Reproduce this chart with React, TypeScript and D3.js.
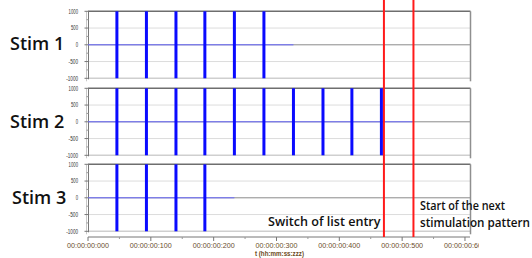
import React from "react";
import * as d3 from "d3";

const stimLabels = ["Stim 1", "Stim 2", "Stim 3"];
const pulseTimes = [46, 93, 140, 186, 233, 280, 327, 374, 420, 467];
const pulseCounts = [6, 10, 4];
const signalEnd = [327, 517, 233];
const markerTimes = [471, 518];
const yTicks = [1000, 500, 0, -500, -1000];
const yMinor = [750, 250, -250, -750];
const xTicks = [0, 100, 200, 300, 400, 500, 600];
const xTickLabels = ["00:00:00:000", "00:00:00:100", "00:00:00:200", "00:00:00:300", "00:00:00:400", "00:00:00:500", "00:00:00:600"];
const xMinor = [50, 150, 250, 350, 450, 550];

const W = 532, H = 258;
const panelTops = [11.3, 88.3, 164.3];
const panelH = 67;

export default function App() {
  const x = d3.scaleLinear().domain([0, 608]).range([88, 470]);
  const axisY = 237;
  const annFont = { fontWeight: 600, fontFamily: "Open Sans, sans-serif", fill: "#111" } as const;
  return (
    <svg width={W} height={H} style={{ position: "absolute", left: 0, top: 0, background: "#fff" }}>
      <defs>
        <clipPath id="xclip"><rect x={0} y={0} width={479} height={H} /></clipPath>
      </defs>
      {stimLabels.map((lab, i) => {
        const top = panelTops[i];
        const y = d3.scaleLinear().domain([-1000, 1000]).range([top + panelH, top]);
        const pulses = pulseTimes.slice(0, pulseCounts[i]);
        return (
          <g key={lab}>
            <line x1={88} x2={470} y1={y(500)} y2={y(500)} stroke="#dcdcdc" />
            <line x1={88} x2={470} y1={y(-500)} y2={y(-500)} stroke="#dcdcdc" />
            <line x1={88} x2={470} y1={y(-1000)} y2={y(-1000)} stroke="#cfcfcf" strokeWidth={1.5} />
            <line x1={88} x2={470} y1={y(0)} y2={y(0)} stroke="#8a8a8a" />
            <line x1={88} x2={470.5} y1={y(1000)} y2={y(1000)} stroke="#6e6e6e" strokeWidth={1.5} />
            <line x1={470.5} x2={470.5} y1={y(1000)} y2={y(-1000) + 3} stroke="#8f8f8f" strokeWidth={1.5} />
            <line x1={86.5} x2={86.5} y1={y(1000)} y2={y(-1000) + 3} stroke="#c8c8c8" />
            <line x1={88.5} x2={88.5} y1={y(1000)} y2={y(-1000) + 1} stroke="#777" />
            {yTicks.map(t => (
              <g key={t}>
                <line x1={84.5} x2={88.5} y1={y(t)} y2={y(t)} stroke="#777" />
                <text x={78} y={y(t) + 2.2} fontSize={6.3} textAnchor="end" fill="#333"
                  fontFamily="Liberation Sans, Arial, sans-serif"
                  textLength={String(t).length * 2.35} lengthAdjust="spacingAndGlyphs">{t}</text>
              </g>
            ))}
            {yMinor.map(t => (
              <line key={t} x1={86.5} x2={88.5} y1={y(t)} y2={y(t)} stroke="#999" />
            ))}
            <line x1={x(0)} x2={x(signalEnd[i])} y1={y(0)} y2={y(0)} stroke="#6a6aff" strokeWidth={1} />
            {pulses.map(p => (
              <line key={p} x1={x(p)} x2={x(p)} y1={y(1000)} y2={y(-1000)} stroke="#0a0aff" strokeWidth={3} />
            ))}
            <text x={i === 2 ? 12 : 10} y={[50, 128, 204][i]} fontSize={18} fontWeight={600}
              fontFamily="Open Sans, sans-serif" fill="#111">{lab}</text>
          </g>
        );
      })}
      <line x1={88} x2={470} y1={axisY} y2={axisY} stroke="#777" />
      {xTicks.map((t, k) => (
        <g key={t} clipPath="url(#xclip)">
          <line x1={x(t)} x2={x(t)} y1={axisY} y2={axisY + 4} stroke="#777" />
          <text x={x(t)} y={248} fontSize={6.3} textAnchor="middle" fill="#6b4e2e"
            fontFamily="Liberation Sans, Arial, sans-serif"
            textLength={42} lengthAdjust="spacingAndGlyphs">{xTickLabels[k]}</text>
        </g>
      ))}
      {xMinor.map(t => (
        <line key={t} x1={x(t)} x2={x(t)} y1={axisY} y2={axisY + 2} stroke="#999" />
      ))}
      <text x={279.5} y={256} fontSize={6.3} fontWeight="bold" textAnchor="middle" fill="#6b4a20"
        fontFamily="Liberation Sans, Arial, sans-serif" textLength={49} lengthAdjust="spacingAndGlyphs">t (hh:mm:ss:zzz)</text>
      {markerTimes.map(t => (
        <line key={t} x1={x(t)} x2={x(t)} y1={0} y2={axisY} stroke="#ff1a1a" strokeWidth={2} />
      ))}
      <text x={268} y={226} fontSize={12.6} {...annFont}>Switch of list entry</text>
      <text x={420} y={210} fontSize={12} textLength={85} lengthAdjust="spacingAndGlyphs" {...annFont}>Start of the next</text>
      <text x={420} y={226.5} fontSize={12} textLength={110} lengthAdjust="spacingAndGlyphs" {...annFont}>stimulation pattern</text>
    </svg>
  );
}
